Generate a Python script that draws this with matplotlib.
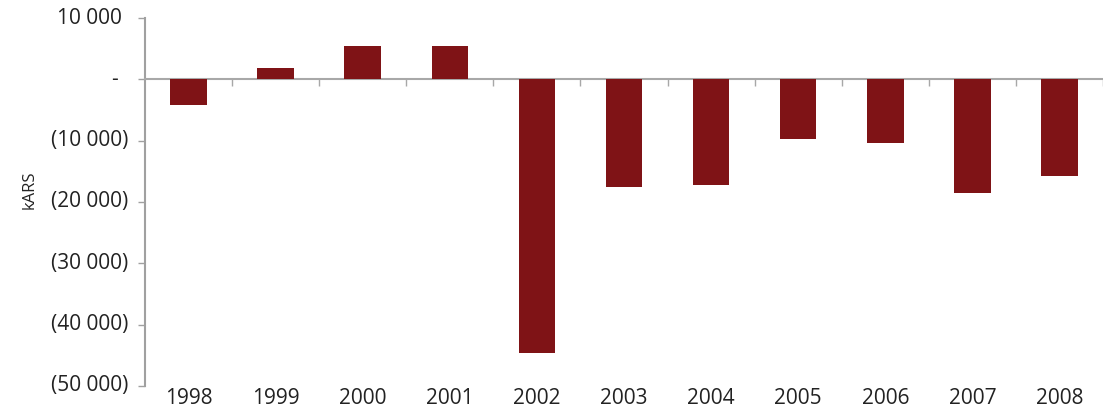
import matplotlib
matplotlib.use("Agg")
import matplotlib.pyplot as plt
from matplotlib.transforms import offset_copy

years = ["1998", "1999", "2000", "2001", "2002", "2003",
         "2004", "2005", "2006", "2007", "2008"]
values = [-4200, 1800, 5500, 5500, -44600, -17500,
          -17200, -9800, -10400, -18500, -15700]
y_ticks = [10000, 0, -10000, -20000, -30000, -40000, -50000]

plt.rcParams['font.family'] = ['Open Sans', 'DejaVu Sans']


def fmt(v):
    # accounting style: negatives in brackets, zero as a dash
    if v == 0:
        return "-"
    s = f"{abs(int(v)):,}".replace(",", " ")
    return f"({s})" if v < 0 else s


fig = plt.figure(figsize=(11.03, 4.12), dpi=100)
ax = fig.add_axes([145 / 1103, 1 - 386 / 412, 1 - 145 / 1103, (386 - 18) / 412])

x = list(range(len(years)))
ax.bar(x, values, width=0.42, color="#7f1316", zorder=3)

ax.set_ylim(-50000, 10000)
ax.set_xlim(-0.5, 10.3)
ax.set_yticks(y_ticks)
ax.set_yticklabels([])
ax.tick_params(axis="y", length=5, width=1, color="#a0a0a0")

# labels drawn by hand so positive ones leave room for the bracket
ytrans = ax.get_yaxis_transform()
for v in y_ticks:
    shift = -17 if v < 0 else (-23 if v > 0 else -27)
    t = offset_copy(ytrans, fig=fig, x=shift, y=0, units="dots")
    ax.text(0, v, fmt(v), transform=t, ha="right", va="center",
            fontsize=15, color="#222222")

# zero line with boundary ticks
ax.spines["bottom"].set_position(("data", 0))
ax.spines["bottom"].set_color("#a8a8a8")
ax.spines["bottom"].set_linewidth(1.5)
ax.set_xticks([i + 0.5 for i in x])
ax.set_xticklabels([])
ax.tick_params(axis="x", length=5, width=1, color="#a8a8a8")

ax.spines["left"].set_color("#a0a0a0")
ax.spines["left"].set_linewidth(1.5)
ax.spines["top"].set_visible(False)
ax.spines["right"].set_visible(False)

trans = ax.get_xaxis_transform()
for i, yr in enumerate(years):
    ax.text(i, -0.005, yr, transform=trans, ha="center", va="top",
            fontsize=15, color="#222222")

fig.text(30 / 1103, 1 - 190 / 412, "kARS", rotation=90, ha="center",
         va="center", fontsize=12, color="#222222")

fig.savefig("out.png", dpi=100)
